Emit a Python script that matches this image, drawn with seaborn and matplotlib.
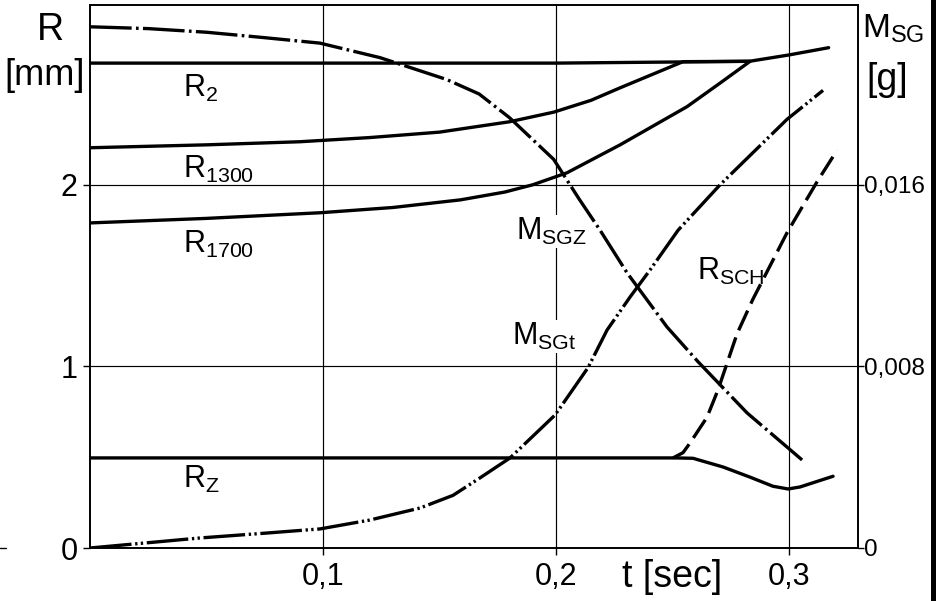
import numpy as np
import pandas as pd
import matplotlib
matplotlib.use("Agg")
import matplotlib.pyplot as plt
from matplotlib.lines import Line2D
import seaborn as sns

# ---------------- data ----------------
# left axis: R [mm]
t_r2 = [0.0, 0.1, 0.2, 0.283, 0.300, 0.317]
r2 = [2.67, 2.67, 2.67, 2.68, 2.715, 2.755]

t_r1300 = [0.0, 0.05, 0.090, 0.120, 0.150, 0.180, 0.199, 0.215, 0.2275, 0.2545, 0.283]
r1300 = [2.204, 2.22, 2.237, 2.26, 2.29, 2.347, 2.40, 2.465, 2.534, 2.678, 2.68]

t_r1700 = [0.0, 0.05, 0.0987, 0.13, 0.159, 0.178, 0.190, 0.2047, 0.2275, 0.2562, 0.2704, 0.2833]
r1700 = [1.79, 1.815, 1.846, 1.875, 1.917, 1.96, 2.00, 2.066, 2.22, 2.43, 2.56, 2.68]

t_rz = [0.0, 0.1, 0.2, 0.2515, 0.2588, 0.2717, 0.2833, 0.2931, 0.2996, 0.3047, 0.3189]
rz = [0.496, 0.496, 0.496, 0.496, 0.494, 0.446, 0.39, 0.34, 0.325, 0.336, 0.395]

t_rsch = [0.2502, 0.2545, 0.2575, 0.2648, 0.2695, 0.2777, 0.2845, 0.2991, 0.312, 0.3206]
rsch = [0.496, 0.525, 0.578, 0.72, 0.87, 1.18, 1.37, 1.735, 2.016, 2.19]

# right axis: M_SG [g]
t_msgz = [0.0, 0.025, 0.05, 0.075, 0.0987, 0.1245, 0.153, 0.167, 0.180, 0.199,
          0.210, 0.2189, 0.2305, 0.2476, 0.261, 0.282, 0.3056]
msgz = [0.02296, 0.02288, 0.02272, 0.02248, 0.02224, 0.0216, 0.02064, 0.0200, 0.01896,
        0.01712, 0.01536, 0.0140, 0.01212, 0.00974, 0.0082, 0.00595, 0.00388]

t_msgt = [0.0, 0.047, 0.076, 0.0987, 0.120, 0.1416, 0.1558, 0.1674, 0.1803, 0.1996,
          0.2137, 0.2219, 0.2318, 0.2403, 0.2524, 0.2704, 0.2991, 0.3146]
msgt = [0.0, 0.00044, 0.00066, 0.00084, 0.00123, 0.00176, 0.00232, 0.00309, 0.00397,
        0.00586, 0.00794, 0.0096, 0.01106, 0.01224, 0.0140, 0.0160, 0.01888, 0.02016]

x_ticks = [0.1, 0.2, 0.3]
x_ticklabels = ["0,1", "0,2", "0,3"]
yl_ticks = [0, 1, 2]
yl_ticklabels = ["0", "1", "2"]
yr_ticks = [0, 0.008, 0.016]
yr_ticklabels = ["0", "0,008", "0,016"]

# ---------------- style ----------------
sns.set_theme(style="ticks")
plt.rcParams["font.family"] = ["Liberation Sans", "DejaVu Sans"]
plt.rcParams["mathtext.fontset"] = "custom"
plt.rcParams["mathtext.rm"] = "Liberation Sans"
plt.rcParams["mathtext.it"] = "Liberation Sans"

W, H = 940, 601
fig = plt.figure(figsize=(9.4, 6.01), dpi=100)
ax = fig.add_axes([90 / W, 1 - 548 / H, (858 - 90) / W, (548 - 5) / H])
ax2 = ax.twinx()

lw = 2.4
common = dict(color="black", linewidth=lw, estimator=None, legend=False)

sns.lineplot(x=t_r2, y=r2, ax=ax, **common)
sns.lineplot(x=t_r1300, y=r1300, ax=ax, **common)
sns.lineplot(x=t_r1700, y=r1700, ax=ax, **common)
sns.lineplot(x=t_rz, y=rz, ax=ax, **common)
sns.lineplot(x=t_rsch, y=rsch, ax=ax, linestyle=(0, (6.5, 2.3)), **common)

sns.lineplot(x=t_msgz, y=msgz, ax=ax2, linestyle=(0, (12.5, 1.3, 0.8, 1.3)), **common)
sns.lineplot(x=t_msgt, y=msgt, ax=ax2,
             linestyle=(0, (12.5, 1.1, 0.7, 1.0, 0.7, 1.1)), **common)

ax.set_xlim(0, 0.3296)
ax.set_ylim(0, 2.99)
ax2.set_ylim(0, 2.99 * 0.008)

# grid
for xv in x_ticks:
    ax.axvline(xv, color="black", linewidth=0.85, zorder=0)
for yv in [1, 2]:
    ax.axhline(yv, color="black", linewidth=0.85, zorder=0)

ax.set_xticks(x_ticks)
ax.set_xticklabels(x_ticklabels)
ax.set_yticks(yl_ticks)
ax.set_yticklabels(yl_ticklabels)
ax2.set_yticks(yr_ticks)
ax2.set_yticklabels(yr_ticklabels)

ax.tick_params(axis="x", length=5, width=1.0, pad=5, labelsize=22, colors="black")
ax.tick_params(axis="y", length=5, width=1.0, pad=4, labelsize=22, colors="black")
ax2.tick_params(axis="y", length=4, width=1.0, pad=0.5, labelsize=17.5, colors="black")

for a in (ax, ax2):
    for s in a.spines.values():
        s.set_visible(True)
        s.set_color("black")
        s.set_linewidth(1.2)
ax.set_xlabel("")
ax.set_ylabel("")
ax2.set_ylabel("")


def px_text(x, y, s, size, **kw):
    """place text at a pixel position of the figure (y measured from top)"""
    fig.text(x / W, 1 - y / H, s, fontsize=size, color="black", **kw)


# curve labels (left-aligned, baseline placed)
lab = dict(ha="left", va="baseline")
lab_box = dict(ha="left", va="baseline",
               bbox=dict(facecolor="white", edgecolor="none", pad=0.5))
size_lab = 22
px_text(183, 97, r"$\mathregular{R_2}$", size_lab, **lab)
px_text(183, 178, r"$\mathregular{R_{1300}}$", size_lab, **lab)
px_text(183, 253, r"$\mathregular{R_{1700}}$", size_lab, **lab)
px_text(183, 488, r"$\mathregular{R_Z}$", size_lab, **lab)
px_text(516, 240, r"$\mathregular{M_{SGZ}}$", size_lab, **lab_box)
px_text(512, 345, r"$\mathregular{M_{SGt}}$", size_lab, **lab_box)
px_text(697, 280, r"$\mathregular{R_{SCH}}$", size_lab, **lab)

# axis titles
px_text(622, 587, "t [sec]", 27, ha="left", va="baseline")
px_text(50, 40, "R", 27, ha="center", va="baseline")
px_text(45, 85, "[mm]", 26, ha="center", va="baseline")
px_text(862, 38, r"$\mathregular{M_{SG}}$", 24, ha="left", va="baseline")
px_text(887, 90, "[g]", 27, ha="center", va="baseline")

# frame bar at the right edge of the scanned page and tiny mark at left
fig.add_artist(Line2D([933 / W, 933 / W], [0, 1], color="black", linewidth=3.6))
fig.add_artist(Line2D([0, 6 / W], [1 - 548 / H, 1 - 548 / H], color="black", linewidth=1.0))

fig.savefig("out.png", dpi=100)
